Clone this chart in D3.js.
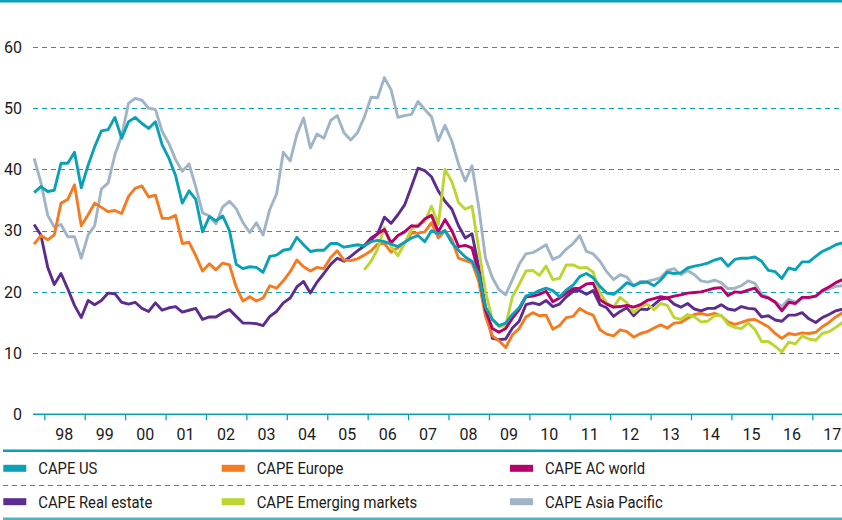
<!DOCTYPE html>
<html>
<head>
<meta charset="utf-8">
<script src="https://cdnjs.cloudflare.com/ajax/libs/d3/7.8.5/d3.min.js"></script>
<style>
body { margin: 0; background: #fff; }
svg { display: block; font-family: Roboto, "Noto Sans", sans-serif; }
</style>
</head>
<body>
<svg></svg>
<script>
// first reading is Oct 1997, one value every 2 months
var firstMonth = new Date(1997, 9, 1);
// emerging markets and AC world start in Dec 2005
var lateStart = new Date(2005, 11, 1);

var years = d3.range(1998, 2018);
var yTicks = [0, 10, 20, 30, 40, 50, 60];

var capeUS = [36.2, 37.2, 36.4, 36.6, 41, 41, 42.8, 37, 40.7, 43.7,
  46.3, 46.5, 48.5, 45.1, 47.8, 48.5, 47.5, 46.7, 47.8, 44,
  41.8, 39, 34.5, 36.5, 35.1, 29.8, 32.3, 31.6, 32.4, 30,
  24.5, 23.8, 24.1, 24, 23.2, 25.8, 26, 26.8, 27, 28.9,
  27.7, 26.6, 26.8, 26.8, 27.9, 27.9, 27.3, 27.5, 27.7, 27.5,
  28.2, 28.4, 28.2, 27.8, 27.4, 28.1, 28.8, 29.2, 28.2, 30,
  29.5, 30, 28, 26.8, 25.7, 25, 22.8, 17.5, 15.5, 14.5,
  14.9, 16.3, 17.4, 19.3, 19.7, 20.2, 20.6, 20.2, 19.2, 20.3,
  21.1, 22.5, 23, 22.3, 20.9, 19.8, 19.6, 20.5, 21.5, 21,
  21.5, 21.6, 21, 21.9, 23.2, 23, 23.1, 23.9, 24.2, 24.4,
  24.7, 25.2, 25.5, 24.2, 25.3, 25.5, 25.5, 25.7, 25, 23.5,
  23.3, 22.2, 23.9, 23.6, 24.9, 24.9, 25.8, 26.6, 27.1, 27.7,
  28];

var capeEurope = [27.8, 29.2, 28.5, 29.3, 34.5, 35.1, 37.5, 30.8, 32.6, 34.5,
  33.8, 33.1, 33.3, 32.8, 35.6, 36.9, 37.3, 35.5, 35.8, 32,
  32, 32.5, 27.9, 28.1, 25.9, 23.4, 24.6, 23.6, 24.7, 24.4,
  20.8, 18.5, 19.2, 18.5, 19, 21, 20.6, 21.8, 23.3, 25.2,
  24.1, 23.4, 24, 23.8, 25.6, 26.7, 25.2, 25.1, 25.4, 26,
  26.7, 27.8, 27.9, 26.5, 27.2, 28, 29.6, 29.6, 29.8, 31.3,
  28.8, 30, 28.5, 25.5, 25.1, 24.8, 21.7, 16, 12.8, 12,
  10.9, 13, 14, 15.9, 16.6, 16.1, 16.2, 13.9, 14.5, 15.8,
  16, 17.3, 16.6, 16.2, 13.8, 13.1, 12.8, 13.8, 13.5, 12.6,
  13.2, 13.5, 14.1, 14.6, 14.1, 14.9, 15, 15.7, 16.3, 16.5,
  16.2, 16.5, 16.1, 15.1, 14.7, 15, 15.4, 15.5, 14.9, 14.3,
  13.2, 12.4, 13.2, 13, 13.3, 13.2, 13.4, 14.3, 15, 15.9,
  16.6];

var capeRealEstate = [31, 29.3, 24, 21.2, 23, 20.5, 17.8, 15.8, 18.6, 17.9,
  18.6, 19.8, 19.7, 18.3, 18, 18.3, 17.3, 16.8, 18.2, 17,
  17.4, 17.6, 16.7, 17, 17.3, 15.5, 15.9, 15.9, 16.6, 17.1,
  16, 14.9, 14.9, 14.8, 14.5, 16, 16.8, 18.2, 19, 20.8,
  21.7, 19.8, 21.6, 23, 24.5, 25.5, 25, 25.8, 26.7, 27.5,
  28.8, 29.5, 32.2, 31.2, 32.6, 34.2, 37.2, 40.2, 39.8, 38.8,
  36.5, 34.8, 33.5, 30.8, 28.8, 29.5, 24, 17.5, 12.4, 12.2,
  12.3, 14.1, 15.2, 17.9, 18.2, 17.9, 18.6, 17.6, 18, 19.2,
  20.1, 20.2, 19.6, 20.2, 17.9, 17.4, 16, 16.8, 17.4, 16.1,
  17.2, 17.1, 17.9, 18.8, 19, 18, 17.5, 18.1, 17.2, 16.9,
  17.3, 17.3, 17.9, 17.2, 17, 17.6, 17.3, 17.2, 15.9, 16.1,
  15.4, 15.2, 16.2, 16.2, 16.6, 15.6, 15, 15.8, 16.3, 16.9,
  17.2];

var capeAsiaPacific = [41.8, 37.9, 32.5, 30.6, 31, 29, 29, 25.5, 29.3, 30.8,
  36.8, 37.8, 42.4, 45.5, 50.8, 51.6, 51.3, 50, 49.8, 46.2,
  44.2, 41.6, 39.7, 40.9, 37.1, 32.9, 32.4, 31.1, 33.9, 34.8,
  33.6, 31.3, 29.7, 31.3, 29.3, 33.5, 36, 42.8, 41.4, 45.7,
  48.4, 43.5, 45.8, 45.1, 48, 48.8, 46, 44.8, 46, 48.5,
  51.8, 51.7, 55, 53, 48.5, 48.8, 49, 51.1, 49.8, 48.6,
  44.7, 47.2, 44.6, 40.9, 38.1, 40.6, 33.8, 25.5, 22.3, 20.4,
  19.5, 22, 24.5, 26.2, 26.4, 27, 27.7, 25.3, 25.8, 27,
  27.9, 29.2, 26.6, 26.2, 25, 23.3, 22, 22.8, 22.4, 21,
  21.7, 21.7, 22, 22.3, 23.5, 23.8, 22.8, 23.5, 22.8, 21.8,
  21.6, 21.9, 21.5, 20.5, 20.6, 21, 21.8, 21.4, 19.6, 19.1,
  18.4, 17.6, 18.8, 18.3, 19, 19, 19.3, 20, 20.5, 20.9,
  21];

var capeEmerging = [23.6, 25, 27, 30.5, 27.4, 25.9, 27.9, 30.2, 31, 31.5,
  34, 31, 40, 38, 34.6, 33.5, 34, 27, 20, 15.4,
  14.3, 14.5, 19.2, 21.2, 23.4, 23.5, 22.7, 24.2, 22, 22.2,
  24.4, 24.4, 23.9, 24, 23.2, 19.8, 18.2, 17.5, 19.1, 18.2,
  16.6, 17.6, 18, 17.1, 18.1, 17.8, 15.8, 15.5, 16.3, 15.9,
  15.1, 15.2, 16.1, 16.2, 14.7, 14.2, 14, 14.9, 13.9, 11.9,
  11.9, 11.1, 10.2, 11.8, 11.5, 12.8, 12.3, 12.1, 13.2, 13.5,
  14.2, 15];

var capeACWorld = [27.5, 28.5, 29.5, 30.2, 28, 29.2, 29.8, 30.8, 30.7, 31.9,
  32.5, 29.8, 31.8, 30, 27.4, 27.6, 27.2, 23, 17, 14,
  13.4, 14, 15.7, 17.1, 19.2, 19.3, 19.6, 20.1, 18.4, 19,
  19.8, 20.5, 20.6, 21.3, 21.4, 18.7, 18, 17.5, 17.6, 17.8,
  17.5, 17.9, 18.6, 18.9, 19.2, 19, 19.3, 19.5, 19.8, 19.9,
  20, 20.3, 20.6, 20.7, 19.4, 20, 19.9, 20.3, 20.6, 19.3,
  19, 18.3, 16.9, 18.3, 18.1, 19.1, 19.1, 19.3, 20.2, 20.8,
  21.5, 22];

var teal = "#0aa1b6";
var series = [
  {name: "CAPE US", color: teal, values: capeUS, start: firstMonth},
  {name: "CAPE Europe", color: "#f47b20", values: capeEurope, start: firstMonth},
  {name: "CAPE AC world", color: "#b6006b", values: capeACWorld, start: lateStart},
  {name: "CAPE Real estate", color: "#5c2d8f", values: capeRealEstate, start: firstMonth},
  {name: "CAPE Emerging markets", color: "#bdd531", values: capeEmerging, start: lateStart},
  {name: "CAPE Asia Pacific", color: "#9fb5c7", values: capeAsiaPacific, start: firstMonth}
];
// drawing order, back to front
var drawOrder = ["CAPE Asia Pacific", "CAPE Real estate", "CAPE Europe", "CAPE Emerging markets", "CAPE AC world", "CAPE US"];

var width = 842, height = 520;
var svg = d3.select("svg").attr("width", width).attr("height", height);

var x = d3.scaleTime()
    .domain([new Date(1998, 0, 1), new Date(2017, 0, 1)])
    .range([44.3, 812.3]);
var y = d3.scaleLinear().domain([0, 60]).range([414.3, 47]);

// top rule
svg.append("rect")
    .attr("x", 0).attr("y", 0)
    .attr("width", width).attr("height", 2.5)
    .attr("fill", teal);

// dashed gridlines
svg.append("g").selectAll("line")
  .data(yTicks.filter(function(d) { return d > 0; }))
  .enter().append("line")
    .attr("x1", 33).attr("x2", width)
    .attr("y1", function(d) { return Math.round(y(d)) + 0.5; })
    .attr("y2", function(d) { return Math.round(y(d)) + 0.5; })
    .attr("stroke", teal)
    .attr("stroke-width", 1.2)
    .attr("stroke-dasharray", "5,4");

svg.append("g").selectAll("text")
  .data(yTicks)
  .enter().append("text")
    .attr("x", 22)
    .attr("y", function(d) { return y(d); })
    .attr("dy", "0.36em")
    .attr("text-anchor", "end")
    .attr("font-size", 16)
    .attr("fill", "#1a1a1a")
    .text(function(d) { return d; });

// x axis: ticks on year boundaries, labels mid-year
var xAxis = svg.append("g")
    .attr("transform", "translate(0," + y(0) + ")")
    .call(d3.axisBottom(x)
      .tickValues(years.map(function(yr) { return new Date(yr, 0, 1); }))
      .tickSize(6)
      .tickFormat(""));
xAxis.select(".domain").remove();
xAxis.selectAll(".tick line").attr("stroke", teal).attr("stroke-width", 1.3);

svg.append("line")
    .attr("x1", 33).attr("x2", width)
    .attr("y1", y(0)).attr("y2", y(0))
    .attr("stroke", teal)
    .attr("stroke-width", 1.6);

svg.append("g").selectAll("text")
  .data(years)
  .enter().append("text")
    .attr("x", function(yr) { return x(new Date(yr, 6, 1)); })
    .attr("y", 440)
    .attr("text-anchor", "middle")
    .attr("font-size", 16)
    .attr("fill", "#1a1a1a")
    .text(function(yr) { return d3.timeFormat("%y")(new Date(yr, 0, 1)); });

// lines
var line = d3.line()
    .x(function(d) { return x(d.date); })
    .y(function(d) { return y(d.value); });

drawOrder.forEach(function(name) {
  var s = series.find(function(d) { return d.name === name; });
  var pts = s.values.map(function(v, i) {
    return {date: d3.timeMonth.offset(s.start, 2 * i), value: v};
  });
  svg.append("path")
      .datum(pts)
      .attr("fill", "none")
      .attr("stroke", s.color)
      .attr("stroke-width", 2.9)
      .attr("stroke-linejoin", "round")
      .attr("d", line);
});

// legend
svg.append("rect").attr("x", 3).attr("y", 449.5).attr("width", width - 3).attr("height", 2.5).attr("fill", teal);
svg.append("line")
    .attr("x1", 3).attr("x2", width)
    .attr("y1", 485.5).attr("y2", 485.5)
    .attr("stroke", teal)
    .attr("stroke-width", 1.2)
    .attr("stroke-dasharray", "5,4");
svg.append("rect").attr("x", 3).attr("y", 517.5).attr("width", width - 3).attr("height", 2.5).attr("fill", "#4fb3c2");

var colX = [3.3, 221.7, 510];
var rowY = [468.3, 501.7];

var legend = svg.append("g").selectAll("g")
  .data(series)
  .enter().append("g")
    .attr("transform", function(d, i) {
      return "translate(" + colX[i % 3] + "," + rowY[Math.floor(i / 3)] + ")";
    });

legend.append("rect")
    .attr("x", 0).attr("y", -3.5)
    .attr("width", 23).attr("height", 7)
    .attr("fill", function(d) { return d.color; });

// the original face is a condensed one, so squeeze Roboto a bit
legend.append("text")
    .attr("x", 35)
    .attr("dy", "0.36em")
    .attr("font-size", 17)
    .attr("fill", "#1a1a1a")
    .text(function(d) { return d.name; })
    .each(function() {
      var w = this.getComputedTextLength();
      d3.select(this)
        .attr("textLength", (w * 0.87).toFixed(1))
        .attr("lengthAdjust", "spacingAndGlyphs");
    });
</script>
</body>
</html>
